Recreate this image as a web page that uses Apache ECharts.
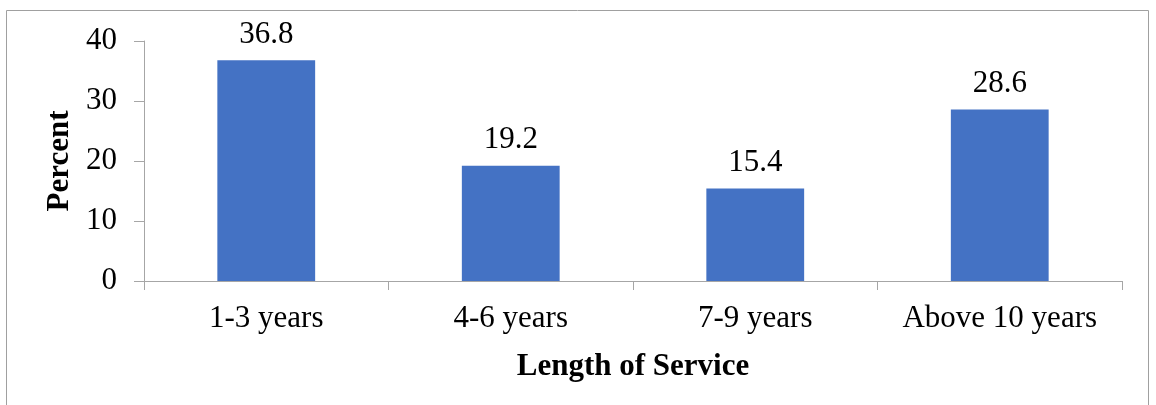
<!DOCTYPE html>
<html>
<head>
<meta charset="utf-8">
<script src="https://cdn.jsdelivr.net/npm/echarts@6/dist/echarts.min.js"></script>
<style>
html,body{margin:0;padding:0;background:#fff;}
#main{width:1156px;height:405px;}
</style>
</head>
<body>
<div id="main"></div>
<script>
const categories = ['1-3 years', '4-6 years', '7-9 years', 'Above 10 years'];
const percentValues = [36.8, 19.2, 15.4, 28.6];
const yTicks = [0, 10, 20, 30, 40];

const chart = echarts.init(document.getElementById('main'), null, {renderer: 'canvas'});
const serif = '"Liberation Serif", "Times New Roman", serif';
chart.setOption({
  animation: false,
  backgroundColor: '#ffffff',
  graphic: [{
    type: 'rect',
    shape: {x: 6.5, y: 10.5, width: 1142, height: 420},
    style: {fill: 'none', stroke: '#a0a0a0', lineWidth: 1},
    silent: true
  }],
  grid: {left: 144, right: 34, top: 41, bottom: 124, containLabel: false},
  xAxis: {
    type: 'category',
    data: categories,
    name: 'Length of Service',
    nameLocation: 'middle',
    nameGap: 70,
    nameTextStyle: {fontFamily: serif, fontWeight: 'bold', fontSize: 31, color: '#000'},
    axisLine: {lineStyle: {color: '#a6a6a6', width: 1}},
    axisTick: {show: true, length: 9, interval: 0, lineStyle: {color: '#a6a6a6'}, alignWithLabel: false},
    axisLabel: {fontFamily: serif, fontSize: 31, color: '#000', margin: 22, interval: 0}
  },
  yAxis: {
    type: 'value',
    min: yTicks[0],
    max: yTicks[yTicks.length - 1],
    interval: 10,
    name: 'Percent',
    nameLocation: 'middle',
    nameGap: 68,
    nameRotate: 90,
    nameTextStyle: {fontFamily: serif, fontWeight: 'bold', fontSize: 31, color: '#000'},
    axisLine: {show: true, lineStyle: {color: '#a6a6a6', width: 1}},
    axisTick: {show: true, length: 10, lineStyle: {color: '#a6a6a6'}},
    splitLine: {show: false},
    axisLabel: {fontFamily: serif, fontSize: 31, color: '#000', margin: 27}
  },
  series: [{
    type: 'bar',
    data: percentValues,
    barWidth: '40%',
    itemStyle: {color: '#4472c4'},
    label: {
      show: true,
      position: 'top',
      distance: 10,
      fontFamily: serif,
      fontSize: 31,
      color: '#000',
      formatter: p => p.value.toFixed(1)
    }
  }]
});
</script>
</body>
</html>
